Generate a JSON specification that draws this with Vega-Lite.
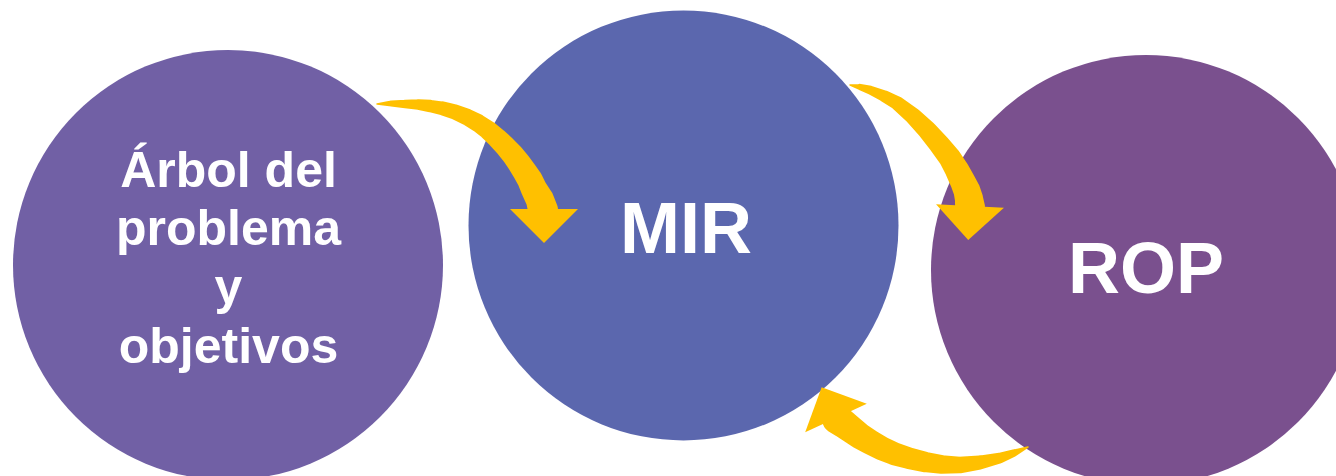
{
  "$schema": "https://vega.github.io/schema/vega-lite/v6.json",
  "width": 1336,
  "height": 476,
  "autosize": {"type": "none"},
  "padding": 0,
  "background": "white",
  "config": {"view": {"stroke": null}},
  "datasets": {
    "circles": [
      {"name": "arbol", "x": 228, "y": 265},
      {"name": "mir", "x": 683.5, "y": 225.5},
      {"name": "rop", "x": 1146, "y": 270}
    ],
    "arrows": [
      {"arrow": "a1", "t": 0, "x": 377, "y": 104},
      {"arrow": "a1", "t": 0.05, "x": 391, "y": 103.5},
      {"arrow": "a1", "t": 0.1, "x": 405, "y": 104},
      {"arrow": "a1", "t": 0.15, "x": 418, "y": 104.5},
      {"arrow": "a1", "t": 0.2, "x": 430, "y": 106},
      {"arrow": "a1", "t": 0.25, "x": 443, "y": 108.5},
      {"arrow": "a1", "t": 0.3, "x": 455, "y": 112},
      {"arrow": "a1", "t": 0.35, "x": 467, "y": 117},
      {"arrow": "a1", "t": 0.4, "x": 478, "y": 123},
      {"arrow": "a1", "t": 0.45, "x": 488, "y": 130},
      {"arrow": "a1", "t": 0.5, "x": 497, "y": 138},
      {"arrow": "a1", "t": 0.55, "x": 505, "y": 146},
      {"arrow": "a1", "t": 0.6, "x": 513, "y": 155},
      {"arrow": "a1", "t": 0.65, "x": 519, "y": 163},
      {"arrow": "a1", "t": 0.7, "x": 525, "y": 172},
      {"arrow": "a1", "t": 0.75, "x": 530, "y": 180},
      {"arrow": "a1", "t": 0.8, "x": 534, "y": 189},
      {"arrow": "a1", "t": 0.9, "x": 540, "y": 200},
      {"arrow": "a1", "t": 1, "x": 543, "y": 210},
      {"arrow": "a2", "t": 0, "x": 850, "y": 85},
      {"arrow": "a2", "t": 0.05, "x": 860, "y": 87},
      {"arrow": "a2", "t": 0.1, "x": 870, "y": 90},
      {"arrow": "a2", "t": 0.18, "x": 884, "y": 96},
      {"arrow": "a2", "t": 0.25, "x": 897, "y": 103},
      {"arrow": "a2", "t": 0.35, "x": 913, "y": 116},
      {"arrow": "a2", "t": 0.45, "x": 927, "y": 130},
      {"arrow": "a2", "t": 0.53, "x": 939, "y": 144},
      {"arrow": "a2", "t": 0.6, "x": 950, "y": 158},
      {"arrow": "a2", "t": 0.68, "x": 957, "y": 170},
      {"arrow": "a2", "t": 0.75, "x": 963, "y": 182},
      {"arrow": "a2", "t": 0.83, "x": 967, "y": 191},
      {"arrow": "a2", "t": 0.9, "x": 969, "y": 199},
      {"arrow": "a2", "t": 1, "x": 970, "y": 207},
      {"arrow": "a3", "t": 0, "x": 1028, "y": 447},
      {"arrow": "a3", "t": 0.07, "x": 1014, "y": 453},
      {"arrow": "a3", "t": 0.15, "x": 1000, "y": 458},
      {"arrow": "a3", "t": 0.25, "x": 980, "y": 462.5},
      {"arrow": "a3", "t": 0.35, "x": 960, "y": 465},
      {"arrow": "a3", "t": 0.43, "x": 942, "y": 464.5},
      {"arrow": "a3", "t": 0.5, "x": 925, "y": 462},
      {"arrow": "a3", "t": 0.56, "x": 910, "y": 458.5},
      {"arrow": "a3", "t": 0.62, "x": 895, "y": 454},
      {"arrow": "a3", "t": 0.68, "x": 882, "y": 448.5},
      {"arrow": "a3", "t": 0.73, "x": 870, "y": 442},
      {"arrow": "a3", "t": 0.79, "x": 860, "y": 436},
      {"arrow": "a3", "t": 0.85, "x": 852, "y": 430},
      {"arrow": "a3", "t": 0.92, "x": 844, "y": 424},
      {"arrow": "a3", "t": 1, "x": 837, "y": 419}
    ],
    "heads": [
      {"arrow": "a1", "x": 544, "y": 209},
      {"arrow": "a2", "x": 970, "y": 206},
      {"arrow": "a3", "x": 836, "y": 418}
    ],
    "labels": [
      {"group": "arbol", "label": "Árbol del", "x": 228.5, "y": 187},
      {"group": "arbol", "label": "problema", "x": 228.5, "y": 245},
      {"group": "arbol", "label": "y", "x": 228.5, "y": 304},
      {"group": "arbol", "label": "objetivos", "x": 228.5, "y": 363},
      {"group": "mir", "label": "MIR", "x": 686, "y": 253},
      {"group": "rop", "label": "ROP", "x": 1146, "y": 293}
    ]
  },
  "encoding": {
    "x": {"field": "x", "type": "quantitative", "scale": {"domain": [0, 1336], "nice": false, "zero": false}, "axis": null},
    "y": {"field": "y", "type": "quantitative", "scale": {"domain": [0, 476], "nice": false, "zero": false, "reverse": true}, "axis": null}
  },
  "layer": [
    {
      "data": {"name": "circles"},
      "mark": {"type": "point", "shape": "circle", "filled": true, "opacity": 1, "size": 184900, "strokeWidth": 0},
      "encoding": {
        "color": {"field": "name", "type": "nominal", "scale": {"domain": ["arbol", "mir", "rop"], "range": ["#7160A5", "#5B67AE", "#7A508E"]}, "legend": null}
      }
    },
    {
      "data": {"name": "arrows"},
      "mark": {"type": "trail", "color": "#FFC000", "opacity": 1},
      "encoding": {
        "detail": {"field": "arrow", "type": "nominal"},
        "order": {"field": "t", "type": "quantitative"},
        "size": {"field": "t", "type": "quantitative", "scale": {"type": "pow", "exponent": 0.6, "domain": [0, 1], "range": [1.5, 30]}, "legend": null}
      }
    },
    {
      "data": {"name": "heads"},
      "mark": {"type": "point", "shape": "M-1,0L1,0L0,1Z", "filled": true, "opacity": 1, "size": 4624, "color": "#FFC000", "strokeWidth": 0},
      "encoding": {
        "angle": {"condition": [{"test": "datum.arrow==='a2'", "value": 3}, {"test": "datum.arrow==='a3'", "value": 155}], "value": 0}
      }
    },
    {
      "data": {"name": "labels"},
      "mark": {"type": "text", "font": "Liberation Sans", "fontWeight": "bold", "color": "white", "align": "center", "baseline": "alphabetic"},
      "encoding": {
        "text": {"field": "label", "type": "nominal"},
        "size": {"condition": {"test": "datum.group==='arbol'", "value": 50}, "value": 72}
      }
    }
  ]
}
